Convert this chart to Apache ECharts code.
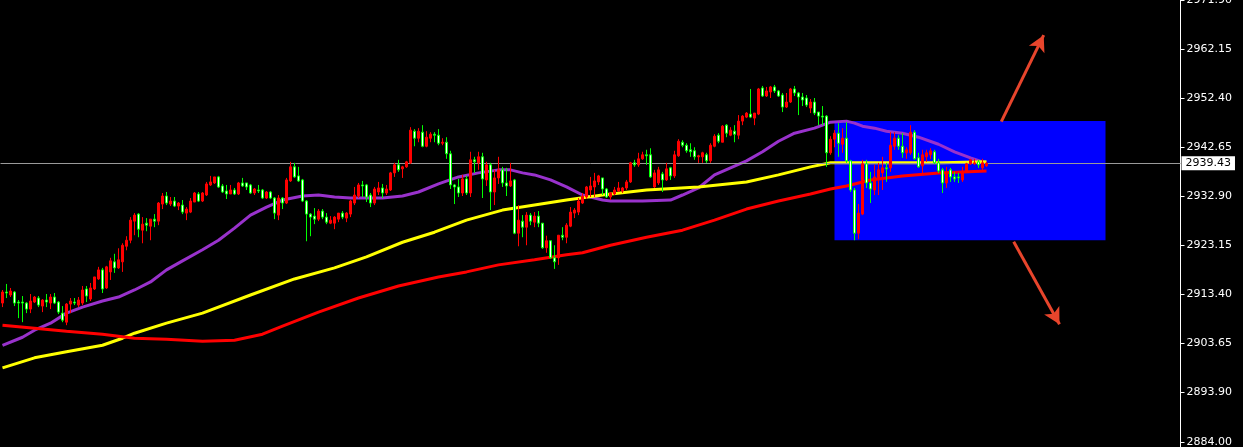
<!DOCTYPE html>
<html><head><meta charset="utf-8">
<script src="https://cdn.jsdelivr.net/npm/echarts@6/dist/echarts.min.js"></script>
<style>html,body{margin:0;padding:0;background:#000;}#c{width:1243px;height:447px;}</style>
</head><body><div id="c"></div>
<script>
const slotCount = 295;
const categories = Array.from({length: slotCount}, (_, i) => String(i));
// [open, close, low, high]
const candles = [
[2911.6,2913.8,2910.8,2914.2],[2913.8,2913.6,2912.6,2915.4],[2913.2,2914.0,2912.8,2914.6],[2913.8,2911.6,2911.0,2914.0],[2911.8,2911.6,2908.6,2912.2],
[2911.8,2911.6,2907.8,2913.0],[2911.6,2910.4,2909.6,2911.8],[2910.4,2912.0,2909.6,2913.4],[2911.8,2912.8,2911.6,2913.0],[2912.6,2911.2,2910.8,2913.0],
[2911.0,2912.2,2909.8,2912.4],[2912.2,2911.8,2910.8,2913.4],[2911.6,2912.8,2910.4,2913.4],[2912.8,2911.6,2911.4,2913.6],[2911.8,2909.8,2909.4,2912.0],
[2909.6,2908.2,2907.8,2911.0],[2907.8,2911.4,2907.2,2911.6],[2911.4,2912.0,2909.6,2912.6],[2911.8,2911.6,2911.2,2912.6],[2911.2,2912.2,2910.8,2912.8],
[2911.6,2914.2,2911.2,2915.0],[2914.4,2913.0,2911.8,2915.0],[2912.4,2914.6,2912.0,2915.6],[2914.4,2916.8,2914.2,2916.8],[2916.4,2918.2,2916.2,2918.8],
[2918.2,2914.4,2913.6,2918.6],[2914.6,2918.8,2914.4,2919.0],[2917.8,2920.0,2916.2,2920.6],[2919.8,2918.6,2917.6,2921.4],[2918.6,2920.2,2918.4,2922.5],
[2919.8,2923.1,2917.8,2923.5],[2922.9,2924.1,2922.1,2924.9],[2924.1,2928.1,2923.5,2928.7],[2927.9,2929.1,2925.1,2929.5],[2929.3,2926.3,2924.7,2929.5],
[2926.1,2927.3,2923.5,2928.7],[2927.5,2927.1,2925.9,2928.5],[2926.9,2928.3,2924.1,2928.3],[2928.3,2927.9,2926.7,2929.3],[2927.9,2931.5,2927.1,2931.7],
[2931.3,2932.9,2930.3,2933.5],[2932.9,2931.5,2931.1,2933.7],[2931.3,2931.9,2930.9,2932.7],[2931.9,2930.9,2930.7,2932.7],[2930.9,2931.5,2930.1,2931.7],
[2931.1,2929.7,2929.3,2932.1],[2929.5,2930.3,2928.1,2930.7],[2929.7,2931.9,2929.5,2932.5],[2931.7,2933.5,2931.7,2933.7],[2933.3,2931.9,2931.7,2933.7],
[2931.9,2933.5,2931.7,2933.7],[2933.1,2935.3,2932.9,2935.7],[2935.1,2935.7,2934.9,2936.9],[2935.5,2936.7,2935.3,2936.7],[2936.7,2934.7,2934.5,2936.9],
[2934.9,2933.7,2933.5,2935.3],[2933.9,2933.3,2932.3,2935.1],[2933.3,2934.1,2933.3,2935.1],[2934.1,2933.3,2933.1,2934.5],[2933.3,2935.5,2933.1,2935.7],
[2935.5,2934.9,2934.7,2936.5],[2935.5,2934.7,2934.1,2935.5],[2935.1,2933.5,2933.3,2935.3],[2933.5,2934.3,2933.1,2934.5],[2934.1,2933.9,2933.5,2935.1],
[2934.1,2932.5,2932.3,2934.3],[2932.5,2933.7,2932.3,2933.9],[2933.7,2932.5,2932.3,2933.9],[2932.5,2929.5,2928.3,2932.7],[2929.1,2932.5,2928.1,2933.1],
[2932.5,2931.5,2930.3,2932.7],[2931.5,2936.1,2931.3,2936.5],[2935.9,2938.7,2935.7,2939.7],[2938.7,2936.7,2936.5,2939.5],[2936.9,2935.9,2935.7,2938.7],
[2936.1,2931.9,2931.7,2936.3],[2931.9,2929.3,2923.9,2932.1],[2929.3,2928.7,2924.9,2929.5],[2928.9,2928.3,2927.3,2930.5],[2928.3,2929.9,2927.9,2930.3],
[2929.9,2928.7,2928.3,2930.3],[2928.7,2927.7,2927.3,2929.5],[2927.5,2928.1,2927.3,2928.9],[2927.5,2928.7,2926.3,2928.9],[2928.3,2929.5,2927.7,2929.5],
[2929.5,2928.7,2928.3,2929.9],[2928.5,2929.5,2927.7,2929.7],[2929.3,2931.9,2928.7,2932.1],[2931.5,2933.1,2931.1,2934.7],[2932.9,2935.1,2932.5,2935.5],
[2935.1,2934.9,2932.7,2935.9],[2935.1,2932.7,2931.7,2935.3],[2933.1,2931.5,2930.7,2933.5],[2931.5,2934.3,2931.1,2934.7],[2933.7,2934.5,2933.1,2935.7],
[2934.5,2933.5,2932.5,2935.3],[2933.5,2934.3,2933.1,2935.1],[2934.1,2937.5,2933.9,2937.7],[2937.5,2939.1,2936.7,2939.5],[2939.1,2938.1,2937.7,2940.1],
[2938.3,2938.7,2936.5,2938.9],[2938.7,2939.7,2938.5,2939.9],[2939.5,2946.0,2939.3,2946.6],[2945.8,2944.4,2942.8,2946.2],[2944.4,2945.8,2943.6,2946.4],
[2945.6,2942.8,2942.6,2947.0],[2942.8,2944.6,2942.6,2945.8],[2944.4,2945.2,2943.6,2945.6],[2945.2,2945.0,2943.6,2945.6],[2945.0,2943.4,2943.0,2946.2],
[2943.4,2943.6,2943.0,2944.4],[2943.6,2941.3,2940.3,2944.6],[2941.3,2935.1,2934.3,2941.9],[2935.1,2934.7,2931.3,2935.3],[2934.7,2933.5,2932.7,2936.3],
[2933.5,2936.3,2932.9,2937.1],[2936.3,2933.5,2933.1,2936.9],[2933.5,2940.1,2932.7,2941.7],[2940.1,2939.7,2937.5,2940.7],[2939.5,2940.7,2938.1,2941.7],
[2940.7,2936.3,2932.5,2941.5],[2936.1,2939.1,2934.9,2939.7],[2939.1,2933.7,2930.1,2939.5],[2933.7,2936.5,2931.1,2938.1],[2936.5,2938.1,2935.3,2940.7],
[2938.1,2935.5,2934.7,2938.7],[2935.5,2934.9,2932.9,2938.5],[2934.9,2935.9,2934.7,2939.5],[2936.1,2925.5,2925.3,2936.3],[2925.5,2928.1,2922.9,2931.1],
[2927.9,2926.7,2924.7,2929.1],[2926.7,2929.1,2923.1,2929.7],[2929.1,2927.9,2927.1,2929.5],[2927.7,2928.9,2926.7,2929.7],[2928.9,2927.5,2926.7,2929.9],
[2927.5,2922.6,2922.4,2927.5],[2922.6,2924.0,2921.6,2925.0],[2924.0,2920.6,2920.4,2924.0],[2920.6,2919.8,2918.4,2923.1],[2920.6,2925.1,2919.2,2925.1],
[2925.1,2924.7,2924.1,2926.7],[2924.7,2927.1,2923.5,2927.5],[2926.9,2929.7,2926.7,2930.7],[2929.5,2930.1,2928.5,2930.5],[2929.7,2931.9,2929.1,2932.5],
[2931.5,2932.9,2931.3,2933.5],[2932.7,2934.7,2932.3,2934.9],[2934.1,2934.9,2932.7,2936.7],[2934.7,2935.9,2932.7,2937.5],[2935.7,2936.9,2935.1,2937.1],
[2936.5,2934.3,2933.1,2936.5],[2934.3,2932.7,2932.5,2934.5],[2932.7,2933.5,2932.1,2933.7],[2933.3,2934.1,2933.1,2934.7],[2933.9,2934.5,2933.7,2935.7],
[2933.9,2934.5,2933.5,2934.7],[2934.5,2935.7,2934.1,2936.1],[2935.7,2939.5,2935.5,2939.7],[2939.5,2939.1,2938.7,2940.1],[2939.1,2940.3,2938.7,2941.5],
[2940.3,2941.1,2940.1,2941.7],[2941.1,2940.9,2939.1,2942.1],[2941.1,2936.7,2936.5,2942.4],[2934.7,2937.5,2934.5,2938.1],[2935.5,2938.1,2935.1,2938.7],
[2937.3,2936.1,2933.7,2937.7],[2936.1,2938.3,2935.9,2939.5],[2938.5,2936.9,2936.1,2938.7],[2936.9,2941.1,2936.5,2941.9],[2940.9,2943.8,2940.7,2944.2],
[2943.6,2943.0,2942.6,2944.0],[2943.0,2941.9,2941.5,2943.4],[2942.1,2941.7,2940.7,2943.4],[2941.9,2940.7,2940.1,2942.6],[2940.7,2940.9,2939.5,2941.1],
[2940.7,2941.5,2939.5,2941.7],[2941.1,2939.9,2939.5,2941.5],[2939.9,2943.0,2939.5,2943.4],[2942.8,2944.8,2942.6,2945.2],[2945.0,2943.8,2943.4,2945.4],
[2943.6,2946.8,2943.6,2947.0],[2947.0,2945.4,2944.6,2947.2],[2945.0,2946.0,2944.8,2946.6],[2945.8,2945.2,2943.6,2947.0],[2945.0,2947.8,2944.2,2949.0],
[2947.8,2948.8,2947.0,2949.0],[2948.6,2949.4,2948.4,2949.6],[2949.2,2948.6,2948.4,2954.2],[2948.4,2949.4,2947.0,2949.4],[2949.2,2954.2,2949.0,2954.4],
[2954.4,2952.8,2952.6,2954.8],[2952.8,2953.8,2952.6,2954.6],[2953.6,2954.6,2952.4,2954.8],[2954.6,2953.8,2953.4,2955.0],[2953.8,2952.8,2952.6,2954.0],
[2953.0,2950.6,2949.6,2953.4],[2950.6,2951.6,2950.4,2953.4],[2951.6,2954.2,2951.4,2954.4],[2954.2,2953.4,2952.8,2954.8],[2953.4,2952.6,2949.0,2953.6],
[2952.6,2952.0,2950.8,2953.4],[2952.4,2951.0,2950.6,2953.0],[2950.4,2951.6,2949.4,2952.2],[2951.6,2949.4,2949.0,2952.4],[2949.6,2948.8,2947.0,2949.6],
[2948.8,2948.6,2947.0,2950.8],[2948.8,2941.5,2938.7,2949.0],[2941.5,2944.2,2941.1,2944.8],[2944.2,2945.4,2942.6,2946.0],[2945.4,2943.4,2940.7,2947.4],
[2943.2,2944.4,2941.5,2946.4],[2944.4,2939.9,2939.5,2947.6],[2939.9,2934.1,2933.7,2940.1],[2934.1,2925.5,2924.1,2934.5],[2925.5,2929.5,2924.3,2931.3],
[2929.3,2939.3,2929.1,2940.1],[2939.3,2935.5,2934.5,2940.1],[2935.5,2934.3,2931.5,2937.7],[2934.1,2936.7,2933.1,2939.1],[2936.5,2938.1,2933.1,2939.5],
[2937.5,2938.5,2934.1,2940.7],[2938.5,2938.3,2935.7,2939.5],[2938.5,2943.0,2937.7,2945.6],[2942.8,2944.4,2942.1,2945.6],[2944.4,2942.8,2942.1,2945.0],
[2942.8,2941.5,2940.5,2945.4],[2941.5,2942.1,2940.3,2942.6],[2941.5,2945.6,2941.1,2947.0],[2945.6,2940.3,2940.1,2946.0],[2940.5,2938.7,2938.5,2941.5],
[2938.9,2941.1,2937.1,2942.1],[2940.7,2941.5,2939.7,2942.1],[2941.1,2941.9,2940.3,2942.4],[2941.7,2939.5,2939.3,2942.1],[2939.5,2937.9,2937.5,2940.3],
[2938.1,2935.5,2933.5,2938.5],[2935.5,2937.7,2934.5,2938.7],[2938.1,2936.7,2935.7,2938.5],[2936.7,2936.3,2935.7,2937.7],[2936.7,2936.5,2935.5,2937.5],
[2936.1,2937.5,2935.7,2938.7],[2937.7,2939.3,2937.5,2939.5],[2939.3,2940.1,2939.1,2940.3],[2939.3,2939.5,2939.1,2940.3],[2939.7,2939.1,2938.5,2940.1],
[2938.5,2939.5,2937.9,2940.3],[2938.9,2939.43,2938.7,2939.7]
];
// moving averages: [candle index, value]
const maPurple = [[0,2903.2],[5,2904.8],[8,2906.2],[12,2907.6],[16,2909.6],[20,2910.8],[25,2912.0],[29,2912.8],[33,2914.2],[37,2915.8],[41,2918.2],[45,2920.0],[50,2922.2],[54,2924.1],[58,2926.5],[62,2929.1],[66,2930.7],[70,2932.1],[75,2932.9],[79,2933.1],[83,2932.7],[87,2932.5],[91,2932.5],[95,2932.5],[100,2932.9],[104,2933.7],[109,2935.3],[114,2936.7],[119,2937.5],[124,2938.1],[127,2938.1],[130,2937.5],[133,2937.1],[137,2936.1],[141,2934.7],[145,2933.1],[150,2932.1],[152,2931.9],[160,2931.9],[167,2932.1],[170,2933.1],[174,2934.5],[178,2937.1],[182,2938.5],[186,2939.9],[190,2941.7],[194,2943.8],[198,2945.4],[203,2946.4],[207,2947.6],[211,2947.8],[213,2947.4],[215,2946.8],[218,2946.4],[221,2945.8],[225,2945.4],[229,2944.6],[234,2943.2],[238,2941.7],[242,2940.5],[245,2939.7],[246,2939.5]];
const maYellow = [[0,2898.7],[8,2900.7],[16,2901.9],[25,2903.2],[30,2904.6],[33,2905.6],[41,2907.6],[50,2909.6],[62,2913.2],[73,2916.4],[83,2918.6],[91,2920.8],[100,2923.7],[108,2925.7],[116,2928.1],[125,2930.1],[133,2931.1],[141,2932.1],[150,2933.1],[161,2934.1],[174,2934.7],[186,2935.7],[194,2937.1],[202,2938.7],[207,2939.5],[220,2939.5],[235,2939.5],[246,2939.7]];
const maRed = [[0,2907.2],[8,2906.6],[16,2906.0],[25,2905.4],[33,2904.6],[41,2904.4],[50,2904.0],[58,2904.2],[65,2905.4],[70,2907.0],[79,2909.8],[89,2912.6],[99,2915.0],[109,2916.8],[116,2917.8],[124,2919.2],[133,2920.2],[141,2921.2],[145,2921.6],[152,2923.1],[161,2924.7],[170,2926.1],[178,2928.1],[186,2930.3],[194,2931.9],[202,2933.3],[207,2934.3],[211,2934.9],[217,2936.1],[225,2936.9],[234,2937.5],[240,2937.7],[246,2937.9]];
const tickLabels = [2971.90, 2962.15, 2952.40, 2942.65, 2932.90, 2923.15, 2913.40, 2903.65, 2893.90, 2884.00];
const yMin = 2882.96, yMax = 2971.90;
const lastPrice = 2939.43;
const boxCorners = [[208, 2947.8], [275.75, 2924.1]];
const arrowUp = [[249.7, 2947.7], [260.3, 2964.9]];
const arrowDown = [[252.8, 2923.8], [264.25, 2907.4]];

const chart = echarts.init(document.getElementById('c'), null, {renderer: 'canvas'});
const maLine = (data, color, z) => ({
  type: 'line', data: data, z: z, showSymbol: false, symbol: 'none', smooth: false,
  lineStyle: {color: color, width: 3}, silent: true
});
chart.setOption({
  backgroundColor: '#000000',
  animation: false,
  grid: {left: 0.5, right: 62.5, top: 0, bottom: 0, containLabel: false, outerBoundsMode: 'none'},
  xAxis: [
    {type: 'category', data: categories, boundaryGap: true, axisLine: {show: false}, axisTick: {show: false}, axisLabel: {show: false}, splitLine: {show: false}},
    {type: 'value', min: -0.5, max: slotCount - 0.5, show: false}
  ],
  yAxis: {
    type: 'value', position: 'right', min: yMin, max: yMax,
    axisLine: {show: true, onZero: false, lineStyle: {color: '#ffffff', width: 1}},
    axisTick: {show: true, customValues: tickLabels, length: 4, lineStyle: {color: '#ffffff'}},
    axisLabel: {show: true, customValues: tickLabels, color: '#ffffff', fontSize: 11, fontFamily: 'DejaVu Sans', margin: 6,
      formatter: v => Number(v).toFixed(2)},
    splitLine: {show: false}
  },
  series: [
    {type: 'line', xAxisIndex: 1, data: [], z: 1, silent: true,
      markArea: {silent: true, itemStyle: {color: '#0000ff', opacity: 1}, label: {show: false},
        data: [[{coord: boxCorners[0]}, {coord: boxCorners[1]}]]}},
    maLine(maPurple, '#9932cc', 2),
    maLine(maYellow, '#ffff00', 3),
    maLine(maRed, '#ff0000', 4),
    {type: 'candlestick', data: candles, z: 5, barWidth: 2, silent: true,
      itemStyle: {color: '#ff0000', color0: '#ffffff', borderColor: '#ff0000', borderColor0: '#00ff00', borderWidth: 1},
      markLine: {silent: true, symbol: ['none', 'none'], animation: false,
        lineStyle: {color: '#9a9a9a', width: 1, type: 'solid'},
        label: {show: true, position: 'end', distance: 1, formatter: lastPrice.toFixed(2), backgroundColor: '#ffffff', color: '#000000',
          padding: [2, 4, 1, 4], fontSize: 11, fontFamily: 'DejaVu Sans'},
        data: [{yAxis: lastPrice}]}},
    {type: 'line', xAxisIndex: 1, data: [], z: 6, silent: true,
      markLine: {silent: true, symbol: ['none', 'arrow'], symbolSize: [13, 16], animation: false,
        lineStyle: {color: '#e8452c', width: 3, type: 'solid'}, label: {show: false},
        data: [
          [{coord: arrowUp[0]}, {coord: arrowUp[1]}],
          [{coord: arrowDown[0]}, {coord: arrowDown[1]}]
        ]}}
  ]
});
</script>
</body></html>
